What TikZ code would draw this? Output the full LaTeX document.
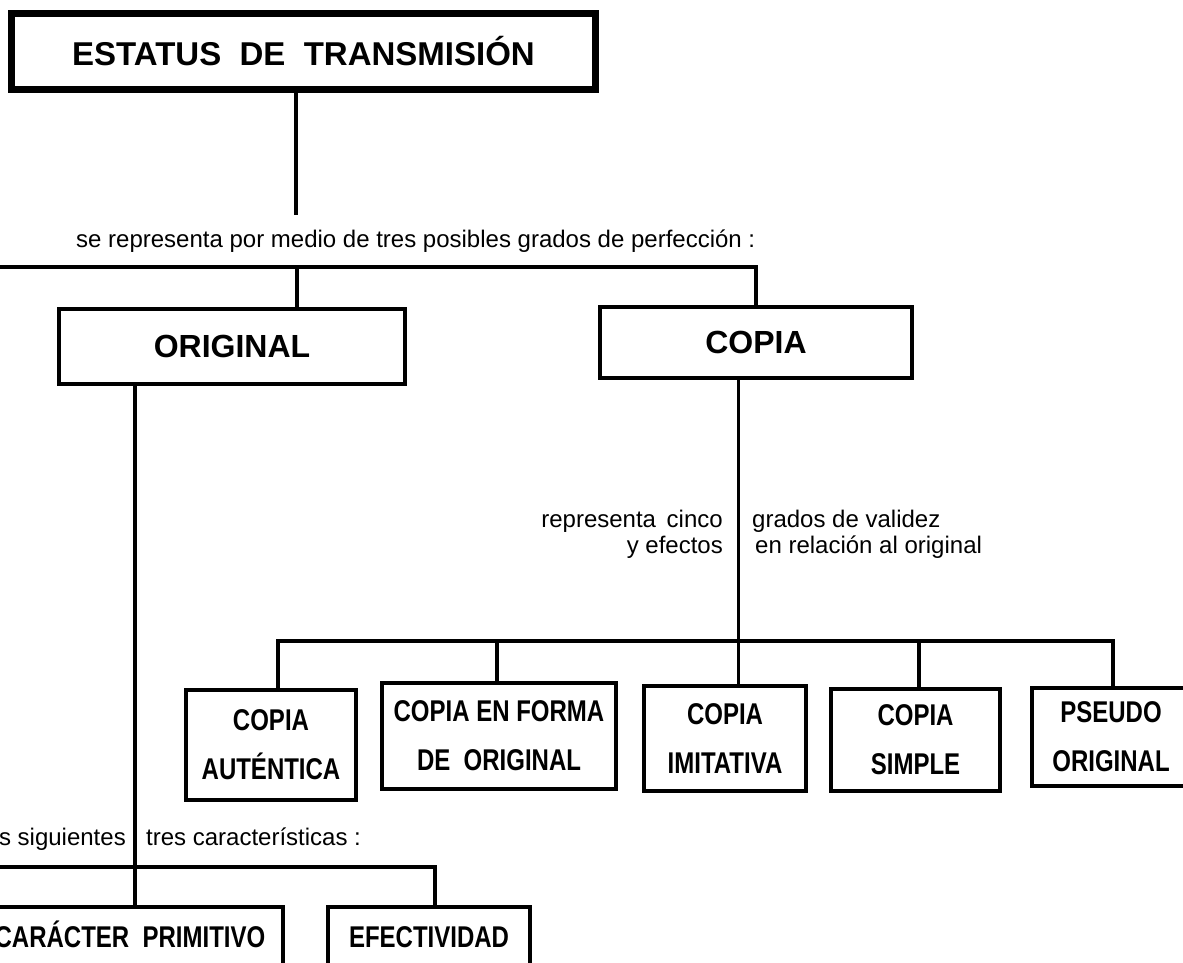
\documentclass[tikz,border=0pt]{standalone}
\usepackage{fontspec}
\setmainfont{Liberation Sans}
\newfontfamily\condfont[FakeStretch=0.8]{Liberation Sans}
\begin{document}
\begin{tikzpicture}[x=1pt,y=-1pt,
  conn/.style={line width=3.5pt},
  box/.style={draw, line width=4pt, inner sep=0pt, align=center},
  bigtxt/.style={font=\fontsize{32}{38}\selectfont\bfseries},
  smalltxt/.style={font=\condfont\fontsize{30}{49}\selectfont\bfseries},
  lbl/.style={inner sep=0pt, font=\fontsize{24}{26}\selectfont}]
\clip (0,0) rectangle (1183,962);
\fill[white] (0,0) rectangle (1183,962);

% main boxes
\node[box, line width=7pt, minimum width=584pt, minimum height=76pt, font=\fontsize{33}{38}\selectfont\bfseries] (title) at (303.5,51.5) {ESTATUS\ \ DE\ \ TRANSMISIÓN};
\node[box, minimum width=346pt, minimum height=75pt, bigtxt] (orig) at (232,346.5) {ORIGINAL};
\node[box, minimum width=312pt, minimum height=71pt, bigtxt] (copia) at (756,342.5) {COPIA};

% copy grades
\node[box, minimum width=170pt, minimum height=110pt, smalltxt] (aut) at (271,745) {COPIA\\AUTÉNTICA};
\node[box, minimum width=234pt, minimum height=106pt, smalltxt] (forma) at (499,736) {COPIA EN FORMA\\DE\ \ ORIGINAL};
\node[box, minimum width=162pt, minimum height=105pt, smalltxt] (imit) at (725,738.5) {COPIA\\IMITATIVA};
\node[box, minimum width=169pt, minimum height=102pt, smalltxt] (simple) at (915.5,740) {COPIA\\SIMPLE};
\node[box, minimum width=158pt, minimum height=98pt, smalltxt] (pseudo) at (1111,737) {PSEUDO\\ORIGINAL};

% characteristics
\node[box, minimum width=306pt, minimum height=60pt, text height=21.5pt, text depth=0pt, smalltxt] (carac) at (130,937) {CARÁCTER\ \ PRIMITIVO};
\node[box, minimum width=202pt, minimum height=60pt, text height=21.5pt, text depth=0pt, smalltxt] (efect) at (429,937) {EFECTIVIDAD};

% labels
\node[lbl, anchor=base west] (t1) at (76,247) {se representa por medio de tres posibles grados de perfección :};
\node[lbl, anchor=base east] (t2) at (723,527) {representa~\,cinco};
\node[lbl, anchor=base east] (t3) at (723,553) {y efectos};
\node[lbl, anchor=base west] (t4) at (752,527) {grados de validez};
\node[lbl, anchor=base west] (t5) at (755,553) {en relación al original};
\node[lbl, anchor=base east] (t6) at (126,845) {s siguientes};
\node[lbl, anchor=base west] (t7) at (146,845) {tres características :};

% coordinates for connectors
\coordinate (tl) at (296,215);
\coordinate (busA) at (-10,267);
\coordinate (dOrig) at (297,267);
\coordinate (oL) at (135,600);
\coordinate (busB) at (-10,867);
\coordinate (busBend) at (435,867);
\coordinate (cL) at (738.5,641);
\coordinate (busC1) at (278,641);
\coordinate (busC2) at (1113,641);
\coordinate (dForma) at (497,641);
\coordinate (dSimple) at (919,641);

% connectors
\draw[conn] (title.south -| tl) -- (tl);
\draw[conn] (busA) -- (busA -| copia.north) -- (copia.north);
\draw[conn] (dOrig) -- (dOrig |- orig.north);
\draw[conn] (orig.south -| oL) -- (oL |- carac.north);
\draw[conn] (busB) -- (busBend) -- (busBend |- efect.north);
\draw[conn] (copia.south -| cL) -- (cL |- imit.north);
\draw[conn] (aut.north -| busC1) -- (busC1) -- (busC2) -- (busC2 |- pseudo.north);
\draw[conn] (dForma) -- (dForma |- forma.north);
\draw[conn] (dSimple) -- (dSimple |- simple.north);
\end{tikzpicture}
\end{document}
